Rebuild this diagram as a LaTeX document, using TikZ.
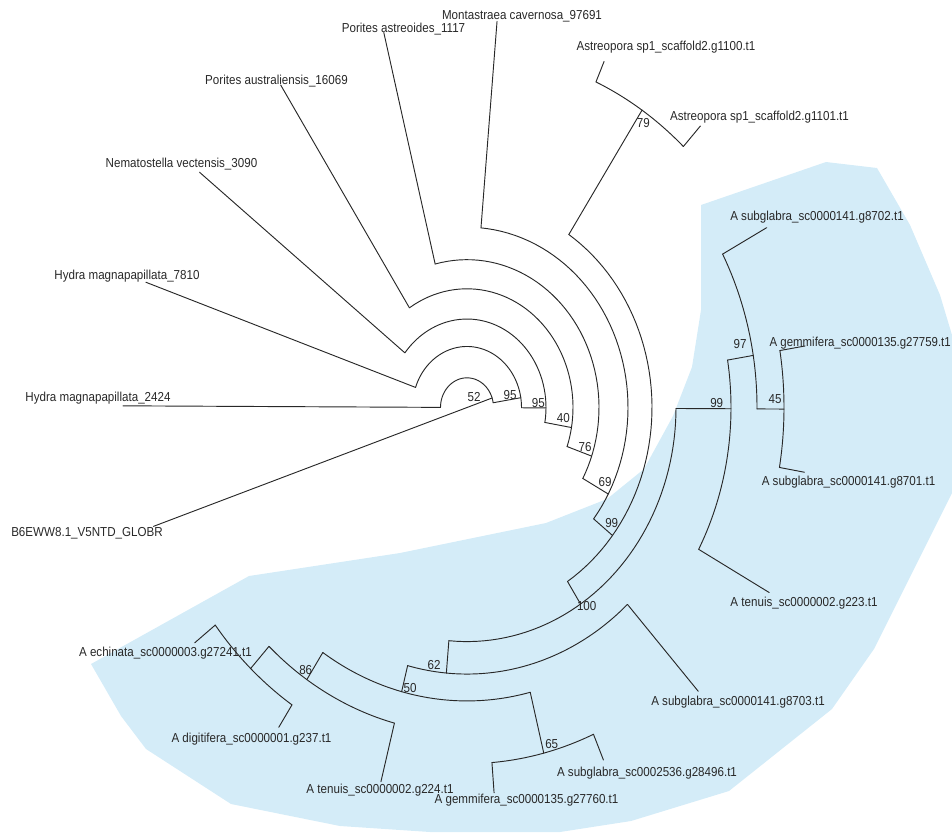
\documentclass[tikz,border=0pt]{standalone}
\usepackage{fontspec}
\usepackage{graphicx}
\setmainfont{Liberation Sans}
\newcommand{\tkid}[4]{\coordinate (#1-b) at (#2:#4);\coordinate (#1) at (#2:#3);\draw[edge] (#1-b) -- (#1);}
\newcommand{\tarc}[3]{\draw[edge] plot[domain=#2:#3,samples=50] (\x:#1);}
\newcommand{\tlbl}[3]{\node[lab] (#1) at (#2) {\scalebox{1}[1.12]{#3}};}
\newcommand{\tnum}[3]{\node[num] (#1) at (#2) {\scalebox{1}[1.12]{#3}};}
\begin{document}
\begin{tikzpicture}[x=0.75pt,y=-0.75pt]
\definecolor{bluefill}{RGB}{212,236,248}
\definecolor{ink}{RGB}{40,40,40}
\tikzset{edge/.style={draw=ink,line width=0.7pt,line join=round,line cap=round},
  lab/.style={anchor=mid,inner sep=0pt,text=ink,font=\fontsize{8.7}{10}\selectfont},
  num/.style={anchor=center,inner sep=0pt,text=ink,font=\fontsize{8.7}{10}\selectfont}}
\useasboundingbox (0,0) rectangle (952,832);
\fill[bluefill] (701,205) -- (826,162) -- (877,168) -- (910,225) -- (940,295) -- (952,335) -- (952,493)
  -- (874,649) -- (832,709) -- (729,791) -- (631,821) -- (560,832) -- (430,832) -- (340,826)
  -- (231,804) -- (146,749) -- (121,716) -- (91,664) -- (249,576) -- (400,553) -- (546,523)
  -- (607,499) -- (644,469) -- (673,416) -- (692,367) -- (701,310) -- cycle;
\begin{scope}[shift={(467,407.5)},yscale=1.12]
\coordinate (root) at (0,0);
% backbone
\tkid{b6}{161.3}{331}{0}
\tkid{n52}{341.3}{26.5}{0}
\tarc{26.5}{180.25}{350.77}
\tkid{h2424}{180.25}{344}{26.5}
\tkid{n95a}{350.77}{54.5}{26.5}
\tarc{54.5}{199.2}{360.25}
\tkid{h7810}{199.2}{340}{54.5}
\tkid{n95b}{360.25}{79}{54.5}
\tarc{79}{218.14}{369.72}
\tkid{nema}{218.14}{340}{79}
\tkid{n40}{369.72}{106}{79}
\tarc{106}{237.09}{379.2}
\tkid{paus}{237.09}{343}{106}
\tkid{n76}{379.2}{132}{106}
\tarc{132}{256.04}{388.67}
\tkid{past}{256.04}{345}{132}
\tkid{n69}{388.67}{161}{132}
\tarc{161}{274.98}{398.14}
\tkid{mont}{274.98}{346}{161}
\tkid{n99}{398.14}{185}{161}
\tarc{185}{303.4}{417.09}
% Astreopora
\tkid{n79}{303.4}{318}{185}
\tarc{318}{293.93}{312.88}
\tkid{a1100}{293.93}{338}{318}
\tkid{a1101}{312.88}{343}{318}
% Acropora
\tkid{n100}{417.09}{209}{185}
\tarc{209}{360.24}{454.98}
\tkid{n99b}{360.24}{264}{209}
\tarc{264}{350.77}{388.66}
\tkid{n97}{350.77}{290}{264}
\tarc{290}{331.82}{360.25}
\tkid{s8702}{331.82}{340}{290}
\tkid{n45}{360.25}{317}{290}
\tarc{317}{350.77}{369.72}
\tkid{g27759}{350.77}{342.5}{317}
\tkid{s8701}{369.72}{342.4}{317}
\tkid{t223}{388.66}{344.4}{264}
\tkid{n62}{454.98}{238}{209}
\tarc{238}{407.61}{464.45}
\tkid{s8703}{407.61}{343}{238}
\tkid{n50}{464.45}{262}{238}
\tarc{262}{436.03}{483.4}
\tkid{n65}{436.03}{318}{262}
\tarc{318}{426.56}{445.5}
\tkid{s28496}{426.56}{343}{318}
\tkid{g27760}{445.5}{345}{318}
\tkid{n86}{483.4}{291}{262}
\tarc{291}{464.45}{492.88}
\tkid{t224}{464.45}{345}{291}
\tkid{nad}{492.88}{318}{291}
\tarc{318}{483.4}{502.35}
\tkid{dig}{483.4}{342}{318}
\tkid{ech}{502.35}{344}{318}
\end{scope}
% leaf labels
\tlbl{l-mont}{522,16}{Montastraea cavernosa\_97691}
\tlbl{l-past}{403.5,29}{Porites astreoides\_1117}
\tlbl{l-a1100}{666,47}{Astreopora sp1\_scaffold2.g1100.t1}
\tlbl{l-paus}{276.5,81}{Porites australiensis\_16069}
\tlbl{l-a1101}{759.5,117}{Astreopora sp1\_scaffold2.g1101.t1}
\tlbl{l-nema}{181.5,164}{Nematostella vectensis\_3090}
\tlbl{l-s8702}{817,217}{A subglabra\_sc0000141.g8702.t1}
\tlbl{l-h7810}{127,276}{Hydra magnapapillata\_7810}
\node[lab,anchor=mid east] (l-g27759) at (951,343) {\scalebox{0.985}[1.12]{A gemmifera\_sc0000135.g27759.t1}};
\tlbl{l-h2424}{98,397.5}{Hydra magnapapillata\_2424}
\tlbl{l-s8701}{848.5,481.7}{A subglabra\_sc0000141.g8701.t1}
\tlbl{l-b6}{87,533}{B6EWW8.1\_V5NTD\_GLOBR}
\tlbl{l-t223}{804,603.3}{A tenuis\_sc0000002.g223.t1}
\tlbl{l-ech}{165.5,653.3}{A echinata\_sc0000003.g27241.t1}
\tlbl{l-s8703}{738,701.7}{A subglabra\_sc0000141.g8703.t1}
\tlbl{l-dig}{251.5,739.3}{A digitifera\_sc0000001.g237.t1}
\tlbl{l-s28496}{647,772.7}{A subglabra\_sc0002536.g28496.t1}
\tlbl{l-t224}{380,790}{A tenuis\_sc0000002.g224.t1}
\tlbl{l-g27760}{526.5,800.3}{A gemmifera\_sc0000135.g27760.t1}
% support values
\tnum{v52}{474,397}{52}
\tnum{v95a}{510,395}{95}
\tnum{v95b}{538.3,403.3}{95}
\tnum{v40}{563.3,418.3}{40}
\tnum{v76}{585,446.7}{76}
\tnum{v69}{605,481.7}{69}
\tnum{v99}{611.7,522.7}{99}
\tnum{v79}{643.3,123.3}{79}
\tnum{v97}{740,344}{97}
\tnum{v45}{775,399}{45}
\tnum{v99b}{716.7,403.3}{99}
\tnum{v100}{586.7,606.3}{100}
\tnum{v62}{434,665}{62}
\tnum{v50}{410,687.7}{50}
\tnum{v65}{551.7,744.3}{65}
\tnum{v86}{305.7,670}{86}
\end{tikzpicture}
\end{document}
